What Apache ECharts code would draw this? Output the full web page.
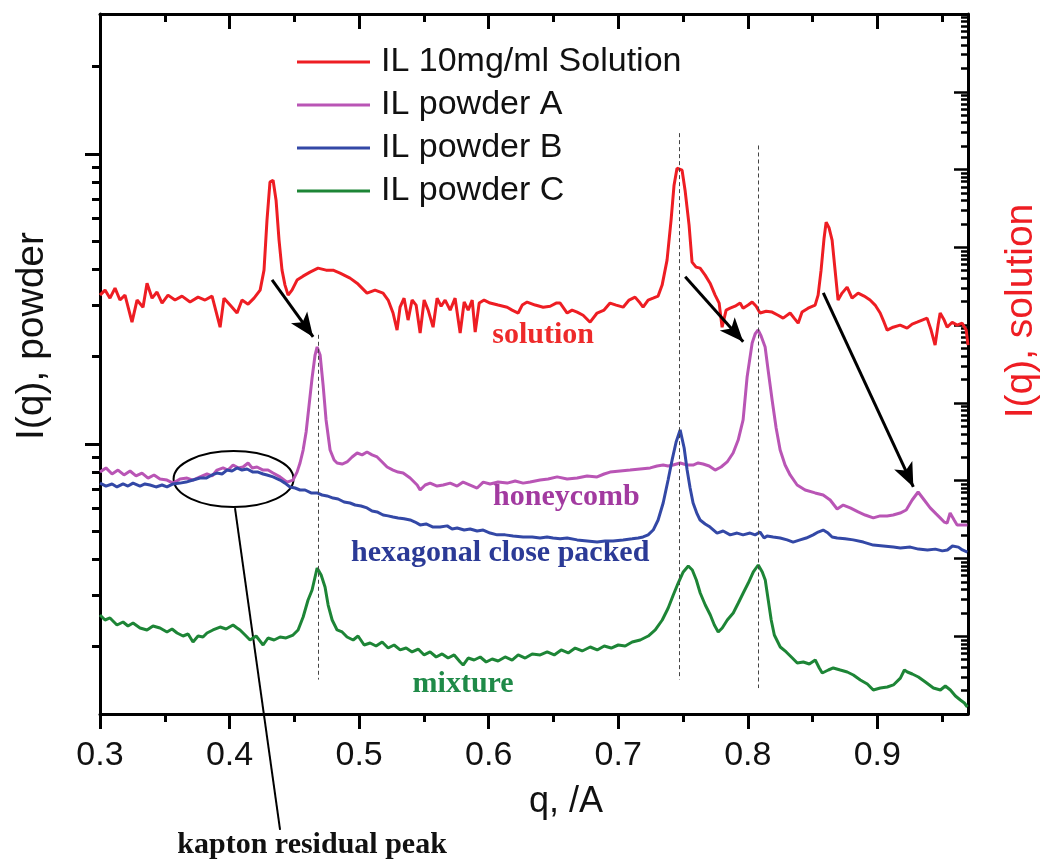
<!DOCTYPE html>
<html><head><meta charset="utf-8">
<script src="https://cdn.jsdelivr.net/npm/echarts@6/dist/echarts.min.js"></script>
<style>html,body{margin:0;padding:0;background:#fff}#c{width:1044px;height:861px}</style>
</head><body><div id="c"></div>
<script>
// ---- data: [q (1/A), intensity] ----
const solution = [[0.3000,2.43],[0.3039,2.82],[0.3077,2.22],[0.3116,2.99],[0.3154,2.10],[0.3193,2.43],[0.3247,1.09],[0.3286,2.10],[0.3332,1.70],[0.3363,3.46],[0.3402,2.22],[0.3440,2.66],[0.3479,1.92],[0.3525,2.43],[0.3579,2.10],[0.3633,2.36],[0.3695,1.98],[0.3757,2.29],[0.3811,2.10],[0.3865,2.36],[0.3927,0.94],[0.3957,2.22],[0.4004,1.81],[0.4058,1.43],[0.4096,2.10],[0.4143,1.86],[0.4189,2.22],[0.4236,2.82],[0.4266,5.09],[0.4289,22.4],[0.4312,68.9],[0.4336,73],[0.4359,40.4],[0.4382,12.4],[0.4405,5.09],[0.4428,3.27],[0.4452,2.43],[0.4482,2.82],[0.4521,3.79],[0.4567,4.26],[0.4621,4.80],[0.4683,5.40],[0.4745,5.09],[0.4799,5.09],[0.4853,4.66],[0.4930,4.02],[0.4992,3.37],[0.5061,2.58],[0.5123,2.82],[0.5185,2.58],[0.5224,2.10],[0.5262,1.43],[0.5293,0.863],[0.5316,1.70],[0.5347,2.22],[0.5378,1.16],[0.5409,2.10],[0.5440,1.81],[0.5471,0.789],[0.5502,2.10],[0.5533,1.56],[0.5571,0.94],[0.5602,2.22],[0.5633,1.75],[0.5664,2.10],[0.5703,1.56],[0.5741,2.22],[0.5780,0.789],[0.5811,1.98],[0.5842,1.56],[0.5873,2.10],[0.5896,0.813],[0.5927,1.92],[0.5965,2.10],[0.6011,1.92],[0.6073,1.81],[0.6143,1.70],[0.6181,1.56],[0.6228,1.43],[0.6259,1.81],[0.6297,1.98],[0.6359,1.81],[0.6421,1.70],[0.6475,1.75],[0.6521,1.92],[0.6552,1.92],[0.6606,1.43],[0.6644,1.56],[0.6683,1.47],[0.6729,1.34],[0.6783,1.09],[0.6837,1.43],[0.6891,1.56],[0.6937,1.92],[0.6984,1.81],[0.7038,1.70],[0.7084,2.10],[0.7130,2.29],[0.7169,1.92],[0.7192,1.70],[0.7231,2.10],[0.7269,2.22],[0.7308,2.36],[0.7339,3.27],[0.7377,6.85],[0.7408,22.4],[0.7431,63],[0.7454,104],[0.7493,98],[0.7516,54.3],[0.7547,19.3],[0.7570,6.45],[0.7601,5.57],[0.7632,5.40],[0.7671,4.39],[0.7709,3.46],[0.7748,2.43],[0.7779,1.92],[0.7802,0.94],[0.7833,1.56],[0.7864,1.65],[0.7902,1.75],[0.7941,1.92],[0.7964,1.65],[0.8003,1.81],[0.8034,1.98],[0.8065,1.75],[0.8095,1.43],[0.8142,1.51],[0.8188,1.47],[0.8234,1.34],[0.8273,1.23],[0.8327,1.43],[0.8358,1.23],[0.8389,1.06],[0.8419,1.47],[0.8466,1.65],[0.8520,1.81],[0.8543,2.43],[0.8566,5.09],[0.8589,13.1],[0.8605,21.1],[0.8628,17.7],[0.8651,12.4],[0.8674,5.09],[0.8697,2.10],[0.8728,2.58],[0.8767,3.08],[0.8805,2.22],[0.8852,2.58],[0.8898,2.36],[0.8944,2.10],[0.8983,1.81],[0.9022,1.43],[0.9052,1.09],[0.9076,0.863],[0.9122,0.94],[0.9176,1.00],[0.9230,0.915],[0.9269,1.03],[0.9307,1.09],[0.9346,1.16],[0.9384,1.23],[0.9415,0.863],[0.9446,0.553],[0.9469,1.00],[0.9485,1.43],[0.9516,1.16],[0.9539,0.94],[0.9578,1.09],[0.9616,1.00],[0.9655,1.06],[0.9686,0.863],[0.9700,0.553]];

const powderA = [[0.3000,0.800],[0.3046,0.827],[0.3093,0.788],[0.3139,0.813],[0.3185,0.782],[0.3232,0.807],[0.3278,0.776],[0.3324,0.794],[0.3371,0.763],[0.3417,0.782],[0.3463,0.757],[0.3517,0.751],[0.3564,0.733],[0.3618,0.757],[0.3672,0.763],[0.3718,0.751],[0.3772,0.770],[0.3826,0.788],[0.3865,0.776],[0.3903,0.813],[0.3950,0.827],[0.3988,0.813],[0.4027,0.846],[0.4066,0.827],[0.4104,0.833],[0.4143,0.860],[0.4174,0.827],[0.4212,0.833],[0.4259,0.813],[0.4297,0.813],[0.4336,0.794],[0.4390,0.770],[0.4444,0.739],[0.4490,0.751],[0.4521,0.800],[0.4544,0.860],[0.4568,0.953],[0.4591,1.100],[0.4614,1.363],[0.4637,1.689],[0.4660,2.027],[0.4676,2.160],[0.4699,2.027],[0.4722,1.598],[0.4745,1.210],[0.4776,0.953],[0.4807,0.881],[0.4830,0.860],[0.4869,0.853],[0.4907,0.867],[0.4946,0.902],[0.4985,0.931],[0.5023,0.917],[0.5061,0.938],[0.5100,0.917],[0.5139,0.902],[0.5178,0.867],[0.5216,0.833],[0.5262,0.813],[0.5301,0.800],[0.5340,0.794],[0.5394,0.763],[0.5448,0.722],[0.5471,0.694],[0.5510,0.722],[0.5548,0.733],[0.5602,0.716],[0.5649,0.722],[0.5703,0.733],[0.5757,0.716],[0.5803,0.739],[0.5857,0.722],[0.5911,0.705],[0.5958,0.739],[0.6011,0.728],[0.6073,0.739],[0.6143,0.733],[0.6205,0.745],[0.6266,0.733],[0.6320,0.739],[0.6397,0.751],[0.6459,0.757],[0.6529,0.770],[0.6606,0.757],[0.6683,0.763],[0.6760,0.776],[0.6837,0.770],[0.6891,0.788],[0.6937,0.800],[0.7015,0.807],[0.7092,0.813],[0.7169,0.820],[0.7247,0.827],[0.7300,0.840],[0.7347,0.846],[0.7385,0.840],[0.7424,0.846],[0.7478,0.860],[0.7532,0.846],[0.7578,0.846],[0.7617,0.860],[0.7655,0.853],[0.7702,0.840],[0.7748,0.813],[0.7794,0.833],[0.7841,0.867],[0.7887,0.931],[0.7926,1.032],[0.7964,1.210],[0.7995,1.702],[0.8034,2.230],[0.8057,2.395],[0.8080,2.473],[0.8103,2.357],[0.8134,2.160],[0.8157,1.800],[0.8188,1.418],[0.8219,1.136],[0.8250,0.953],[0.8288,0.846],[0.8327,0.782],[0.8381,0.722],[0.8443,0.694],[0.8520,0.678],[0.8582,0.667],[0.8636,0.641],[0.8690,0.597],[0.8737,0.616],[0.8791,0.602],[0.8852,0.583],[0.8906,0.569],[0.8969,0.556],[0.9022,0.565],[0.9076,0.565],[0.9122,0.569],[0.9176,0.578],[0.9223,0.592],[0.9269,0.641],[0.9315,0.683],[0.9362,0.641],[0.9408,0.602],[0.9454,0.574],[0.9485,0.556],[0.9516,0.538],[0.9539,0.534],[0.9562,0.578],[0.9593,0.547],[0.9616,0.526],[0.9655,0.526],[0.9695,0.526]];

const powderB = [[0.3000,0.733],[0.3046,0.716],[0.3093,0.728],[0.3131,0.711],[0.3178,0.728],[0.3216,0.716],[0.3255,0.733],[0.3309,0.716],[0.3347,0.728],[0.3386,0.722],[0.3432,0.711],[0.3479,0.722],[0.3517,0.711],[0.3564,0.728],[0.3618,0.733],[0.3664,0.739],[0.3718,0.751],[0.3772,0.763],[0.3819,0.763],[0.3865,0.782],[0.3903,0.794],[0.3942,0.788],[0.3980,0.813],[0.4019,0.807],[0.4058,0.827],[0.4096,0.813],[0.4135,0.820],[0.4181,0.800],[0.4220,0.800],[0.4259,0.788],[0.4289,0.782],[0.4336,0.770],[0.4390,0.751],[0.4428,0.733],[0.4467,0.711],[0.4506,0.705],[0.4544,0.694],[0.4583,0.694],[0.4629,0.678],[0.4676,0.678],[0.4714,0.667],[0.4753,0.662],[0.4799,0.651],[0.4838,0.646],[0.4884,0.631],[0.4930,0.626],[0.4969,0.616],[0.5015,0.611],[0.5061,0.602],[0.5100,0.587],[0.5139,0.583],[0.5185,0.569],[0.5224,0.565],[0.5262,0.560],[0.5301,0.556],[0.5347,0.552],[0.5394,0.547],[0.5432,0.538],[0.5471,0.526],[0.5517,0.530],[0.5571,0.517],[0.5625,0.517],[0.5680,0.522],[0.5718,0.509],[0.5757,0.513],[0.5811,0.505],[0.5857,0.509],[0.5911,0.501],[0.5958,0.505],[0.6011,0.493],[0.6066,0.486],[0.6127,0.486],[0.6189,0.482],[0.6266,0.478],[0.6336,0.478],[0.6397,0.474],[0.6451,0.478],[0.6497,0.474],[0.6552,0.471],[0.6606,0.474],[0.6683,0.467],[0.6760,0.463],[0.6837,0.459],[0.6899,0.463],[0.6961,0.463],[0.7038,0.467],[0.7108,0.471],[0.7154,0.474],[0.7192,0.478],[0.7231,0.486],[0.7270,0.505],[0.7308,0.547],[0.7347,0.626],[0.7385,0.751],[0.7416,0.881],[0.7447,1.016],[0.7478,1.118],[0.7509,0.969],[0.7532,0.813],[0.7555,0.705],[0.7578,0.626],[0.7609,0.574],[0.7632,0.547],[0.7671,0.530],[0.7709,0.517],[0.7763,0.493],[0.7810,0.501],[0.7864,0.486],[0.7918,0.493],[0.7964,0.486],[0.8018,0.493],[0.8057,0.486],[0.8095,0.497],[0.8126,0.474],[0.8149,0.482],[0.8196,0.478],[0.8250,0.474],[0.8304,0.467],[0.8350,0.459],[0.8404,0.467],[0.8451,0.474],[0.8505,0.486],[0.8543,0.497],[0.8582,0.505],[0.8620,0.493],[0.8651,0.478],[0.8690,0.474],[0.8752,0.471],[0.8814,0.467],[0.8892,0.459],[0.8969,0.448],[0.9046,0.445],[0.9124,0.441],[0.9178,0.438],[0.9255,0.441],[0.9317,0.434],[0.9387,0.431],[0.9448,0.434],[0.9502,0.428],[0.9541,0.431],[0.9580,0.445],[0.9626,0.441],[0.9657,0.431],[0.9695,0.424]];

const powderC = [[0.3000,0.2572],[0.3039,0.2472],[0.3077,0.2512],[0.3131,0.2376],[0.3178,0.2433],[0.3216,0.2357],[0.3255,0.2414],[0.3309,0.2320],[0.3363,0.2284],[0.3409,0.2357],[0.3463,0.2320],[0.3517,0.2248],[0.3556,0.2301],[0.3595,0.2230],[0.3641,0.2177],[0.3680,0.2212],[0.3718,0.2075],[0.3757,0.2177],[0.3795,0.2160],[0.3826,0.2230],[0.3872,0.2284],[0.3927,0.2338],[0.3973,0.2301],[0.4027,0.2376],[0.4058,0.2320],[0.4081,0.2284],[0.4120,0.2194],[0.4158,0.2109],[0.4205,0.2177],[0.4259,0.2027],[0.4297,0.2143],[0.4344,0.2109],[0.4390,0.2160],[0.4436,0.2143],[0.4490,0.2194],[0.4529,0.2284],[0.4568,0.2532],[0.4606,0.2898],[0.4637,0.3137],[0.4676,0.3736],[0.4707,0.3534],[0.4737,0.3212],[0.4761,0.2784],[0.4792,0.2472],[0.4830,0.2284],[0.4869,0.2248],[0.4907,0.2160],[0.4954,0.2109],[0.4992,0.2177],[0.5039,0.2027],[0.5085,0.2059],[0.5131,0.2011],[0.5178,0.2075],[0.5224,0.1979],[0.5270,0.2027],[0.5317,0.1949],[0.5363,0.1979],[0.5409,0.1918],[0.5456,0.1963],[0.5502,0.1873],[0.5548,0.1918],[0.5595,0.1843],[0.5641,0.1888],[0.5687,0.1828],[0.5734,0.1873],[0.5780,0.1771],[0.5803,0.1729],[0.5842,0.1828],[0.5888,0.1799],[0.5935,0.1843],[0.5981,0.1771],[0.6027,0.1814],[0.6073,0.1785],[0.6127,0.1843],[0.6181,0.1799],[0.6228,0.1873],[0.6282,0.1828],[0.6336,0.1888],[0.6398,0.1873],[0.6452,0.1918],[0.6506,0.1873],[0.6560,0.1949],[0.6614,0.1903],[0.6668,0.1979],[0.6722,0.1933],[0.6784,0.1995],[0.6838,0.1949],[0.6892,0.2011],[0.6946,0.1979],[0.7000,0.2027],[0.7054,0.2011],[0.7108,0.2075],[0.7170,0.2109],[0.7232,0.2177],[0.7286,0.2284],[0.7340,0.2472],[0.7386,0.2719],[0.7425,0.3015],[0.7463,0.3316],[0.7502,0.3620],[0.7541,0.3796],[0.7572,0.3678],[0.7603,0.3396],[0.7633,0.3063],[0.7672,0.2784],[0.7711,0.2572],[0.7742,0.2376],[0.7772,0.2248],[0.7803,0.2320],[0.7842,0.2472],[0.7888,0.2613],[0.7927,0.2829],[0.7965,0.3063],[0.8004,0.3316],[0.8043,0.3620],[0.8081,0.3826],[0.8112,0.3620],[0.8135,0.3396],[0.8158,0.2898],[0.8181,0.2472],[0.8205,0.2194],[0.8251,0.1995],[0.8297,0.1918],[0.8344,0.1828],[0.8382,0.1757],[0.8429,0.1771],[0.8475,0.1743],[0.8521,0.1799],[0.8552,0.1689],[0.8575,0.1623],[0.8622,0.1662],[0.8660,0.1689],[0.8714,0.1662],[0.8768,0.1636],[0.8815,0.1597],[0.8869,0.1535],[0.8923,0.1487],[0.8969,0.1418],[0.9023,0.1441],[0.9077,0.1452],[0.9124,0.1476],[0.9178,0.1559],[0.9209,0.1662],[0.9232,0.1636],[0.9270,0.1610],[0.9317,0.1572],[0.9371,0.1511],[0.9433,0.1441],[0.9487,0.1418],[0.9525,0.1464],[0.9564,0.1418],[0.9603,0.1352],[0.9641,0.1310],[0.9672,0.1279],[0.9695,0.1239]];

const seriesNames = ['IL 10mg/ml Solution', 'IL powder A', 'IL powder B', 'IL powder C'];
const seriesColors = ['#ee1d23', '#b955b5', '#3348a6', '#1d8536'];

// ---- axis ticks ----
const xMajorTicks = [0.3, 0.4, 0.5, 0.6, 0.7, 0.8, 0.9];
const xMinorTicks = [0.35, 0.45, 0.55, 0.65, 0.75, 0.85, 0.95];
const leftMajorTicks = [1, 10];
const leftMinorTicks = [0.2, 0.3, 0.4, 0.5, 0.6, 0.7, 0.8, 0.9, 2, 3, 4, 5, 6, 7, 8, 9, 20];
const rightMajorTicks = [1e-5, 1e-4, 1e-3, 1e-2, 1e-1, 1, 10, 100, 1000, 10000];
const rightMinorTicks = [];
rightMajorTicks.slice(0, -1).forEach(d => { for (let k = 2; k <= 9; k++) rightMinorTicks.push(Number((k * d).toPrecision(3))); });

// ---- annotations (data coordinates on the powder axis) ----
const peakGuides = [[0.4683, 2.38, 0.154], [0.7470, 11.8, 0.154], [0.8080, 10.7, 0.144]];
const shiftArrows = [[0.4328, 3.68, 0.4645, 2.34], [0.7517, 3.77, 0.7965, 2.25], [0.8583, 3.32, 0.9278, 0.711]];
const curveLabels = [
  {text: 'solution', q: 0.6421, v: 2.38, color: '#ee2a2a'},
  {text: 'honeycomb', q: 0.6600, v: 0.657, color: '#a23aa0'},
  {text: 'hexagonal close packed', q: 0.6089, v: 0.420, color: '#2b3a96'},
  {text: 'mixture', q: 0.5803, v: 0.149, color: '#1f8a48'},
  {text: 'kapton residual peak', q: 0.4637, v: 0.0414, color: '#111111'}
];
const kaptonEllipse = {q: 0.4031, v: 0.757};
const kaptonLeader = [0.4042, 0.601, 0.4390, 0.0467];

const SANS = 'Arial, "Liberation Sans", Helvetica, sans-serif';
const SERIF = '"Times New Roman", "Liberation Serif", serif';

const X_MIN = 0.3, X_MAX = 0.97;
const L_MIN = 0.1172, L_MAX = 30.39;
const R_MIN = 1e-5, R_MAX = 1e4;

function xAx(pos, major, extra) {
  return Object.assign({
    type: 'value', min: X_MIN, max: X_MAX, position: pos,
    splitLine: {show: false},
    axisLine: {show: major, onZero: false, lineStyle: {color: '#000', width: 3}},
    axisTick: {show: true, customValues: major ? xMajorTicks : xMinorTicks, inside: pos === 'top',
      length: major ? 15 : 8, lineStyle: {color: '#000', width: 3}},
    axisLabel: {show: false}
  }, extra || {});
}
function yAx(pos, major, left, extra) {
  return Object.assign({
    type: 'log', logBase: 10, position: pos,
    min: left ? L_MIN : R_MIN, max: left ? L_MAX : R_MAX,
    splitLine: {show: false},
    axisLine: {show: major, onZero: false, lineStyle: {color: '#000', width: 3}},
    axisTick: {show: true,
      customValues: left ? (major ? leftMajorTicks : leftMinorTicks) : (major ? rightMajorTicks : rightMinorTicks),
      inside: !left, length: left ? (major ? 15 : 8) : (major ? 14 : 7),
      lineStyle: {color: '#000', width: left ? 3 : 2.5}},
    axisLabel: {show: false}
  }, extra || {});
}

const option = {
  animation: false,
  backgroundColor: '#fff',
  grid: {left: 100, top: 14, width: 868, height: 700, containLabel: false, outerBoundsMode: 'none'},
  legend: {
    show: true, orient: 'vertical', left: 297, top: 45, padding: 0,
    itemWidth: 73, itemHeight: 3, itemGap: 9, icon: 'rect',
    textStyle: {fontFamily: SANS, fontSize: 34, color: '#111', lineHeight: 34, padding: [0, 0, 0, 6]},
    data: seriesNames
  },
  xAxis: [
    xAx('bottom', true, {
      axisLabel: {show: true, customValues: xMajorTicks, margin: 25, fontFamily: SANS, fontSize: 34, color: '#111',
        formatter: v => v.toFixed(1)},
      name: 'q, /A', nameLocation: 'middle', nameGap: 70,
      nameTextStyle: {fontFamily: SANS, fontSize: 36, color: '#111', padding: [0, 0, 0, 64]}
    }),
    xAx('bottom', false),
    xAx('top', true),
    xAx('top', false)
  ],
  yAxis: [
    yAx('left', true, true, {
      name: 'I(q), powder', nameLocation: 'middle', nameGap: 48, nameRotate: 90,
      nameTextStyle: {fontFamily: SANS, fontSize: 39, color: '#111', padding: [0, 0, 0, 56]}
    }),
    yAx('left', false, true),
    yAx('right', true, false, {
      name: 'I(q), solution', nameLocation: 'middle', nameGap: 34, nameRotate: 90,
      nameTextStyle: {fontFamily: SANS, fontSize: 39, color: '#ee1d23', padding: [0, 0, 0, 106]}
    }),
    yAx('right', false, false)
  ],
  series: [
    {name: seriesNames[0], type: 'line', xAxisIndex: 0, yAxisIndex: 2, data: solution},
    {name: seriesNames[1], type: 'line', xAxisIndex: 0, yAxisIndex: 0, data: powderA,
      markLine: {silent: true, symbol: ['none', 'arrow'], symbolSize: [15, 24], label: {show: false},
        lineStyle: {color: '#000', width: 3, type: 'solid'},
        data: shiftArrows.map(a => [{coord: [a[0], a[1]]}, {coord: [a[2], a[3]]}])}},
    {name: seriesNames[2], type: 'line', xAxisIndex: 0, yAxisIndex: 0, data: powderB},
    {name: seriesNames[3], type: 'line', xAxisIndex: 0, yAxisIndex: 0, data: powderC,
      markLine: {silent: true, symbol: ['none', 'none'], label: {show: false},
        lineStyle: {color: '#444', width: 1, type: [4, 3]},
        data: peakGuides.map(g => [{coord: [g[0], g[1]]}, {coord: [g[0], g[2]]}])}}
  ].map((s, i) => Object.assign(s, {
    showSymbol: false, symbol: 'none', smooth: false, clip: true,
    color: seriesColors[i],
    lineStyle: {color: seriesColors[i], width: 3},
    emphasis: {disabled: true}
  }))
};

const chart = echarts.init(document.getElementById('c'), null, {renderer: 'canvas'});
chart.setOption(option);

function px(q, v) { return chart.convertToPixel({xAxisIndex: 0, yAxisIndex: 0}, [q, v]); }
const graphics = [];
curveLabels.forEach(l => {
  const p = px(l.q, l.v);
  graphics.push({type: 'text', x: p[0], y: p[1], silent: true,
    style: {text: l.text, fill: l.color, font: 'bold 30px ' + SERIF, textAlign: 'center', textVerticalAlign: 'middle', verticalAlign: 'middle', align: 'center'}});
});
const ec = px(kaptonEllipse.q, kaptonEllipse.v);
graphics.push({type: 'ellipse', silent: true, shape: {cx: ec[0], cy: ec[1], rx: 60, ry: 28},
  style: {fill: 'none', stroke: '#000', lineWidth: 2}});
const l1 = px(kaptonLeader[0], kaptonLeader[1]);
const l2 = px(kaptonLeader[2], kaptonLeader[3]);
graphics.push({type: 'line', silent: true, shape: {x1: l1[0], y1: l1[1], x2: l2[0], y2: l2[1]},
  style: {stroke: '#000', lineWidth: 2}});
chart.setOption({graphic: graphics});
</script></body></html>
